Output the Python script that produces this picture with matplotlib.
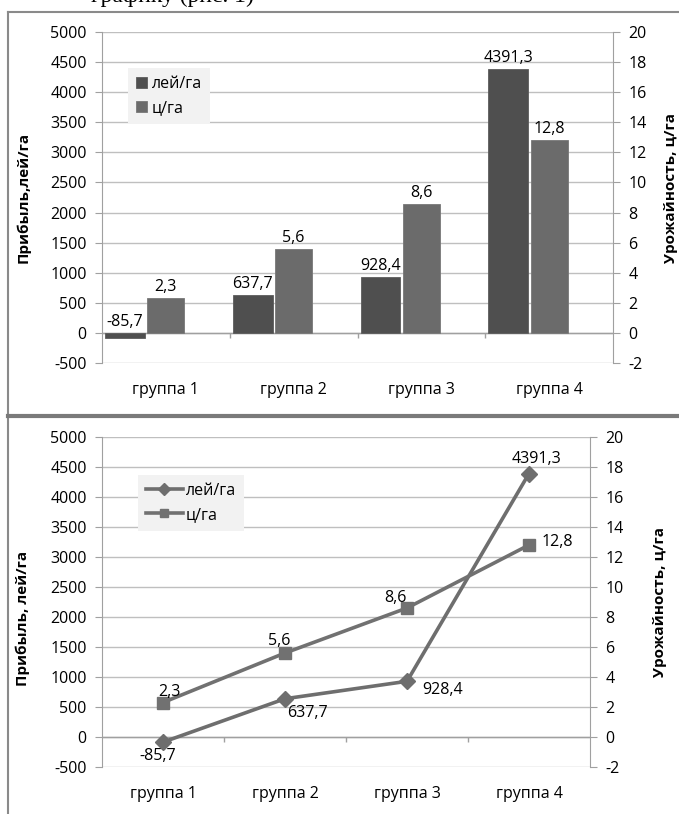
import numpy as np
import matplotlib
matplotlib.use("Agg")
import matplotlib.pyplot as plt
from matplotlib.lines import Line2D

plt.rcParams["font.family"] = ["Open Sans", "DejaVu Sans"]
plt.rcParams["font.size"] = 11.5
plt.rcParams["axes.unicode_minus"] = False

groups = ["группа 1", "группа 2", "группа 3", "группа 4"]
profit = [-85.7, 637.7, 928.4, 4391.3]     # прибыль, лей/га
yield_c = [2.3, 5.6, 8.6, 12.8]            # урожайность, ц/га

# смещения подписей на линейном графике (в пикселях)
profit_off = [(-5, -14), (22, -14), (36, -9), (7, 15)]
yield_off = [(6, 10), (-6, 12), (-12, 10), (28, 3)]

W, H = 679, 814
GRID = "#bfbfbf"
AXC = "#a0a0a0"


def fmt(v):
    return f"{v:.1f}".replace(".", ",")


def setup(ax, ax2, xpad):
    x = np.arange(len(groups))
    ax.set_xlim(-0.5, 3.5)
    ax.set_ylim(-500, 5000)
    ax.set_yticks(range(-500, 5001, 500))
    ax2.set_ylim(-2, 20)
    ax2.set_yticks(range(-2, 21, 2))
    ax.grid(axis="y", color=GRID, lw=1)
    ax.set_axisbelow(True)
    for a in (ax, ax2):
        for s in a.spines.values():
            s.set_visible(False)
    ax.spines["left"].set_visible(True)
    ax.spines["left"].set_color(AXC)
    ax2.spines["right"].set_visible(True)
    ax2.spines["right"].set_color(AXC)
    ax.tick_params(axis="y", length=5, color=AXC, pad=6)
    ax2.tick_params(axis="y", length=5, color=AXC, pad=6)
    ax.set_xticks(x, groups)
    ax.tick_params(axis="x", length=0, pad=xpad)
    # горизонтальная ось проходит через ноль, засечки между группами
    ax.axhline(0, color=AXC, lw=1, zorder=1)
    ax.vlines([0.5, 1.5, 2.5], -85, 0, color=AXC, lw=1)
    return x


fig = plt.figure(figsize=(W / 100, H / 100), dpi=100)

# рамка и разделитель между графиками
fig.add_artist(Line2D([8 / W, 8 / W], [0, 1 - 12 / H], color="#8a8a8a", lw=1.5))
fig.add_artist(Line2D([8 / W, 1], [1 - 12 / H, 1 - 12 / H], color="#8a8a8a", lw=1.5))
fig.add_artist(Line2D([8 / W, 1], [1 - 416 / H, 1 - 416 / H], color="#7a7a7a", lw=3))
fig.text(91 / W, 1 - 2 / H, "графику (рис. 1)", family="Liberation Serif",
         fontsize=17, va="baseline")

# --- столбчатая диаграмма ---
ax = fig.add_axes([102 / W, 1 - 363 / H, 511 / W, 331 / H])
ax2 = ax.twinx()
x = setup(ax, ax2, 14)
b1 = ax.bar(x - 0.32, profit, width=0.31, color="#4f4f4f", edgecolor="#5c5c5c",
            lw=0.6, label="лей/га")
b2 = ax2.bar(x, yield_c, width=0.29, color="#6b6b6b", edgecolor="#787878",
             lw=0.6, label="ц/га")
for xi, v in zip(x, profit):
    ax.annotate(fmt(v), (xi - 0.32, max(v, 0)), xytext=(0, 3),
                textcoords="offset pixels", ha="center", va="bottom")
for xi, v in zip(x, yield_c):
    ax2.annotate(fmt(v), (xi, v), xytext=(0, 3),
                 textcoords="offset pixels", ha="center", va="bottom")
ax.set_ylabel("Прибыль,лей/га", fontweight="bold", fontsize=11)
ax.yaxis.set_label_coords(-0.14, 0.5)
ax2.set_ylabel("Урожайность, ц/га", fontweight="bold", fontsize=11)
ax2.yaxis.set_label_coords(1.10, 0.53)
leg = ax.legend([b1, b2], ["лей/га", "ц/га"], loc="upper left",
                bbox_to_anchor=(120 / W, 1 - 60 / H), bbox_transform=fig.transFigure,
                frameon=True, facecolor="#f2f2f2", edgecolor="none", fancybox=False,
                handlelength=0.7, handleheight=0.7, handletextpad=0.3,
                borderpad=0.5, labelspacing=0.5, fontsize=11.5)
leg.get_frame().set_alpha(1)

# --- линейный график ---
bx = fig.add_axes([102 / W, 1 - 767 / H, 488 / W, 330 / H])
bx2 = bx.twinx()
x = setup(bx, bx2, 14)
l1, = bx.plot(x, profit, marker="D", ms=8, color="#6e6e6e", lw=2.6, label="лей/га")
l2, = bx2.plot(x, yield_c, marker="s", ms=8, color="#717171", lw=2.6, label="ц/га")
for xi, v, off in zip(x, profit, profit_off):
    bx.annotate(fmt(v), (xi, v), xytext=off, textcoords="offset pixels",
                ha="center", va="center")
for xi, v, off in zip(x, yield_c, yield_off):
    bx2.annotate(fmt(v), (xi, v), xytext=off, textcoords="offset pixels",
                 ha="center", va="center")
bx.set_ylabel("Прибыль, лей/га", fontweight="bold", fontsize=11)
bx.yaxis.set_label_coords(-0.148, 0.45)
bx2.set_ylabel("Урожайность, ц/га", fontweight="bold", fontsize=11)
bx2.yaxis.set_label_coords(1.13, 0.5)
leg2 = bx.legend([l1, l2], ["лей/га", "ц/га"], loc="upper left",
                 bbox_to_anchor=(130 / W, 1 - 467 / H), bbox_transform=fig.transFigure,
                 frameon=True, facecolor="#f2f2f2", edgecolor="none", fancybox=False,
                 handlelength=2.3, handletextpad=0.2, borderpad=0.5,
                 labelspacing=0.5, fontsize=11.5, markerscale=0.8)
leg2.get_frame().set_alpha(1)

fig.savefig("out.png", dpi=100)
